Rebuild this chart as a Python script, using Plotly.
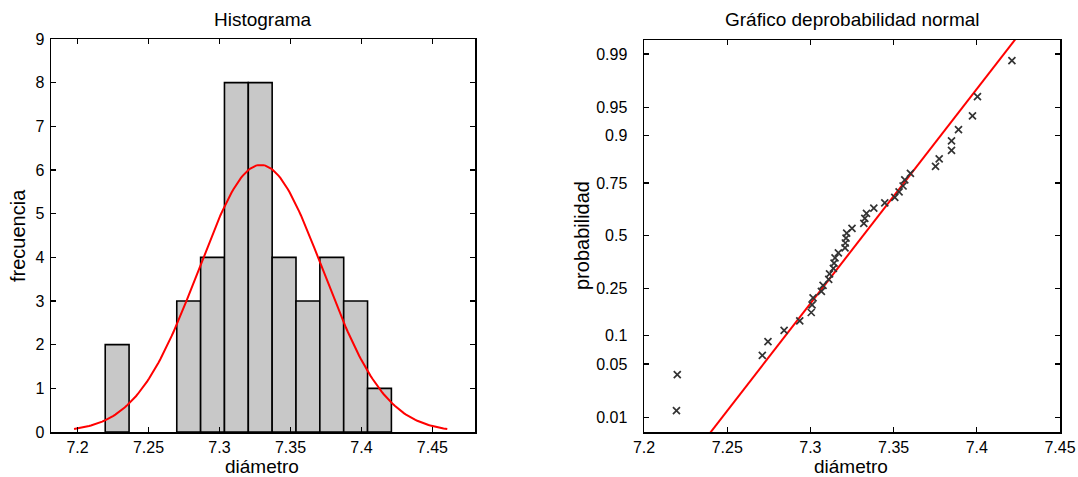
import numpy as np
import plotly.graph_objects as go
from statistics import NormalDist

# ---- data (sorted diameters) ----
diametro = [
    7.2195, 7.2200,
    7.2711, 7.2745, 7.2842,
    7.2936, 7.3005, 7.3010, 7.3016,
    7.3066, 7.3076, 7.3110, 7.3115, 7.3138, 7.3142, 7.3148, 7.3168,
    7.3208, 7.3210, 7.3214, 7.3218, 7.3250, 7.3321, 7.3327, 7.3337,
    7.3381, 7.3447, 7.3507, 7.3533,
    7.3557, 7.3567, 7.3601,
    7.3752, 7.3774, 7.3848, 7.3848,
    7.3890, 7.3974, 7.4004,
    7.4211,
]
n_bins = 12
x_ticks_hist = [7.2, 7.25, 7.3, 7.35, 7.4, 7.45]
y_ticks_hist = [0, 1, 2, 3, 4, 5, 6, 7, 8, 9]
x_ticks_norm = [7.2, 7.25, 7.3, 7.35, 7.4, 7.45]
prob_ticks = [0.01, 0.05, 0.1, 0.25, 0.5, 0.75, 0.9, 0.95, 0.99]
prob_labels = ["0.01", "0.05", "0.1", "0.25", "0.5", "0.75", "0.9", "0.95", "0.99"]

# ---- computations ----
data = np.array(sorted(diametro))
n = len(data)
counts, edges = np.histogram(data, bins=n_bins, range=(data.min(), data.max()))
bw = edges[1] - edges[0]
centers = (edges[:-1] + edges[1:]) / 2
nz = counts > 0
mu = data.mean()
sd = data.std(ddof=1)
xc = np.linspace(mu - 3 * sd, mu + 3 * sd, 200)
yc = n * bw * np.exp(-0.5 * ((xc - mu) / sd) ** 2) / (sd * np.sqrt(2 * np.pi))

nd = NormalDist()
pp = [(i - 0.5) / n for i in range(1, n + 1)]
zz = [nd.inv_cdf(p) for p in pp]
q1 = np.interp(0.25, pp, data)
q3 = np.interp(0.75, pp, data)
z1, z3 = nd.inv_cdf(0.25), nd.inv_cdf(0.75)
slope = (q3 - q1) / (z3 - z1)
zl = np.array([-3.2, 3.2])
xl = q1 + slope * (zl - z1)

W, H = 1078, 477
FONT = "Liberation Sans, Arial, sans-serif"

fig = go.Figure()
fig.add_trace(go.Bar(x=centers[nz], y=counts[nz], width=bw,
                     marker=dict(color="#c8c8c8", line=dict(color="black", width=1.6)),
                     xaxis="x", yaxis="y", showlegend=False))
fig.add_trace(go.Scatter(x=xc, y=yc, mode="lines", line=dict(color="#ff0000", width=2),
                         xaxis="x", yaxis="y", showlegend=False))
fig.add_trace(go.Scatter(x=xl, y=zl, mode="lines", line=dict(color="#ff0000", width=2),
                         xaxis="x2", yaxis="y2", showlegend=False))
fig.add_trace(go.Scatter(x=data, y=zz, mode="markers",
                         marker=dict(symbol="x-thin-open", size=7, color="#333333",
                                     line=dict(color="#333333", width=1.7)),
                         xaxis="x2", yaxis="y2", showlegend=False))

def px_x(p):
    return p / W

def px_y(p):
    return 1 - p / H

axis_common = dict(showline=True, mirror="allticks", linecolor="black", linewidth=1.5,
                   ticks="inside", ticklen=5, tickwidth=1.3, tickcolor="black",
                   showgrid=False, zeroline=False, automargin=False,
                   ticklabeloverflow="allow",
                   tickfont=dict(family=FONT, size=16, color="black"))

def ann(text, x, y, size, angle=0):
    return dict(text=text, x=px_x(x), y=px_y(y), xref="paper", yref="paper",
                xanchor="center", yanchor="middle", showarrow=False, textangle=angle,
                font=dict(family=FONT, size=size, color="black"))

fig.update_layout(
    template="none",
    width=W, height=H,
    margin=dict(l=0, r=0, t=0, b=0, pad=0),
    paper_bgcolor="white", plot_bgcolor="white",
    bargap=0,
    hovermode=False,
    xaxis=dict(domain=[px_x(51), px_x(475)], range=[7.1813, 7.480], anchor="y",
               tickvals=x_ticks_hist, ticktext=[str(v) for v in x_ticks_hist],
               ticklabelstandoff=0, **axis_common),
    yaxis=dict(domain=[px_y(432), px_y(39)], range=[0, 9], anchor="x",
               tickvals=y_ticks_hist, ticklabelstandoff=2, **axis_common),
    xaxis2=dict(domain=[px_x(644), px_x(1060)], range=[7.2, 7.45], anchor="y2",
                tickvals=x_ticks_norm, ticktext=[str(v) for v in x_ticks_norm],
                ticklabelstandoff=0, **axis_common),
    yaxis2=dict(domain=[px_y(432), px_y(40)], range=[-2.514, 2.505], anchor="x2",
                tickvals=[nd.inv_cdf(p) for p in prob_ticks], ticktext=prob_labels,
                ticklabelstandoff=12, **axis_common),
    annotations=[
        ann("Histograma", 263, 20, 19),
        ann("Gráfico deprobabilidad normal", 852, 20, 19),
        ann("diámetro", 262, 466, 19),
        ann("diámetro", 851, 466, 19),
        ann("frecuencia", 18, 236, 20, -90),
        ann("probabilidad", 582, 236, 20, -90),
    ],
)

fig.write_html(
    "out.html",
    config={"displayModeBar": False, "staticPlot": True},
    post_script="document.body.style.margin='0';document.body.style.overflow='hidden';",
)
